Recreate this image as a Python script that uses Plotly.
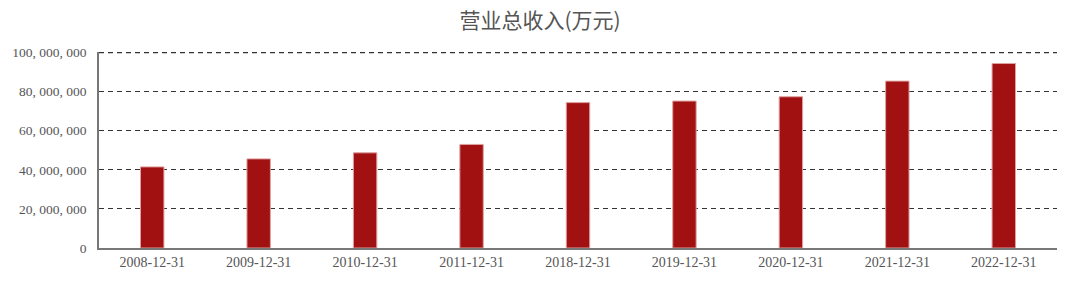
import plotly.graph_objects as go

categories = ["2008-12-31", "2009-12-31", "2010-12-31", "2011-12-31", "2018-12-31",
              "2019-12-31", "2020-12-31", "2021-12-31", "2022-12-31"]
revenue = [41500000, 45600000, 48700000, 53000000, 74400000,
           75200000, 77400000, 85400000, 94400000]
y_tick_vals = [0, 20000000, 40000000, 60000000, 80000000, 100000000]
y_tick_text = ["0", "20, 000, 000", "40, 000, 000", "60, 000, 000", "80, 000, 000", "100, 000, 000"]
title_text = "营业总收入(万元)"

fig = go.Figure()
fig.add_trace(go.Bar(
    x=categories, y=revenue,
    marker=dict(color="#a11111", line=dict(color="#e0a0a0", width=1)),
    width=0.22,
))
# top dashed grid line (plotly hides the gridline at the range edge)
fig.add_shape(type="line", xref="paper", yref="y", x0=0, x1=1,
              y0=y_tick_vals[-1], y1=y_tick_vals[-1],
              line=dict(color="#333", width=1.2, dash="5px,4px"), layer="below")
fig.update_layout(
    width=1080, height=289,
    margin=dict(l=94, r=23, t=52, b=41),
    paper_bgcolor="white", plot_bgcolor="white",
    title=dict(text=title_text, x=0.5, xanchor="center", y=0.93, yanchor="middle",
               font=dict(family="Noto Sans CJK SC", size=21, color="#555")),
    showlegend=False,
    xaxis=dict(type="category", showline=True, linecolor="#777", linewidth=1.5, ticks="",
               tickfont=dict(family="Liberation Serif", size=14, color="#555"),
               showgrid=False),
    yaxis=dict(range=[0, 100300000], tickvals=y_tick_vals, ticktext=y_tick_text,
               showline=True, linecolor="#777", linewidth=1.5, ticks="",
               showgrid=True, gridcolor="#333", griddash="5px,4px", gridwidth=1.2,
               zeroline=False, ticklabelstandoff=8,
               tickfont=dict(family="Liberation Serif", size=13.5, color="#555")),
)
fig.write_html("out.html")
